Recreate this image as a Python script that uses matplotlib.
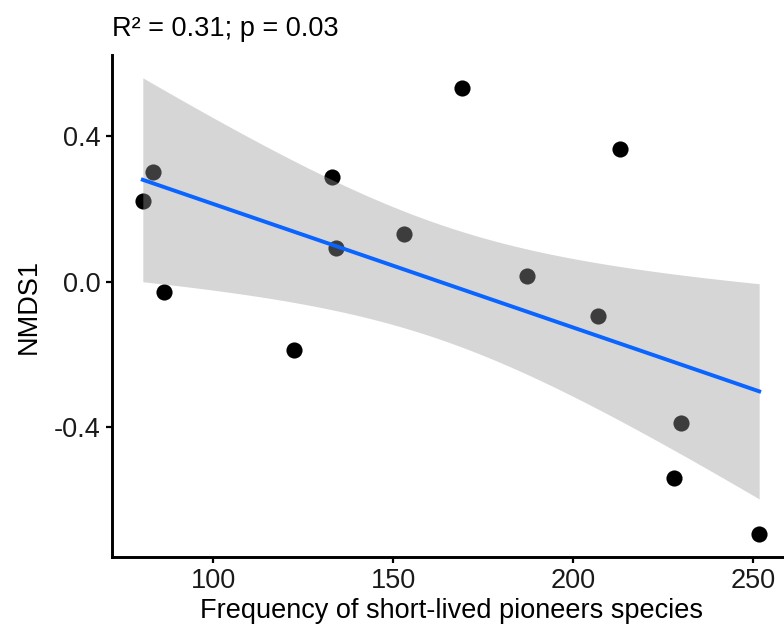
import matplotlib
matplotlib.use("Agg")
import matplotlib.pyplot as plt
import numpy as np

plt.rcParams['font.family'] = ['Liberation Sans', 'DejaVu Sans']

# frequency of short-lived pioneer species vs NMDS1 score
freq = [80.4, 83.2, 86.4, 122.3, 133.1, 134.2, 153.1, 169.2,
        187.1, 207.0, 213.1, 227.9, 230.0, 251.7]
nmds1 = [0.221, 0.301, -0.029, -0.187, 0.288, 0.092, 0.131, 0.532,
         0.015, -0.095, 0.364, -0.539, -0.389, -0.693]
title = "R\u00b2 = 0.31; p = 0.03"
# band half-width multiplier on the standard error (tuned to the reference band)
band_mult = 1.93

x = np.array(freq)
y = np.array(nmds1)
n = len(x)

# linear fit with confidence band
slope, icpt = np.polyfit(x, y, 1)
resid = y - (slope * x + icpt)
s = np.sqrt(np.sum(resid**2) / (n - 2))
xg = np.linspace(x.min(), x.max(), 80)
yg = slope * xg + icpt
se = s * np.sqrt(1 / n + (xg - x.mean())**2 / np.sum((x - x.mean())**2))
lo, hi = yg - band_mult * se, yg + band_mult * se

fig = plt.figure(figsize=(7.84, 6.31), dpi=100)
W, H = 784, 631
ax = fig.add_axes([112 / W, 1 - 557 / H, (790 - 112) / W, (557 - 55) / H])

ax.scatter(x, y, s=135, color='black', zorder=2, linewidths=0)
ax.fill_between(xg, lo, hi, color='#999999', alpha=0.4, linewidth=0, zorder=3)
ax.plot(xg, yg, color='#0A64FF', lw=2.8, zorder=4)

xr = x.max() - x.min()
ax.set_xlim(x.min() - 0.05 * xr, x.max() + 0.05 * xr)
ymin, ymax = min(y.min(), lo.min()), max(y.max(), hi.max())
yr = ymax - ymin
ax.set_ylim(ymin - 0.05 * yr, ymax + 0.05 * yr)

ax.set_xticks([100, 150, 200, 250])
ax.set_yticks([-0.4, 0.0, 0.4])
ax.set_yticklabels(['-0.4', '0.0', '0.4'])

for side in ['top', 'right']:
    ax.spines[side].set_visible(False)
for side in ['left', 'bottom']:
    ax.spines[side].set_linewidth(2.1)
ax.tick_params(width=1.6, length=4, labelsize=19.5, color='black',
               labelcolor='#1a1a1a', pad=4)

ax.set_xlabel("Frequency of short-lived pioneers species", fontsize=19.5, labelpad=3)
ax.set_ylabel("NMDS1", fontsize=19.5, labelpad=9)
ax.set_title(title, loc='left', fontsize=19.5, pad=14)

fig.savefig("out.png", dpi=100)
